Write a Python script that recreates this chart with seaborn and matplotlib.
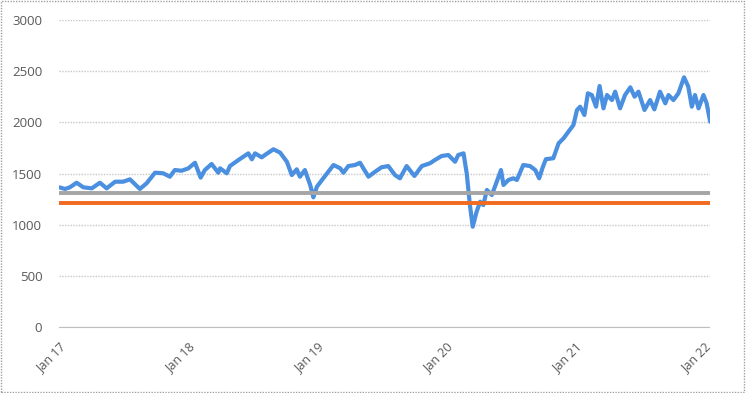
import pandas as pd
import seaborn as sns
import matplotlib.pyplot as plt
from matplotlib.patches import Rectangle

# index level
dates = [
    "2017-01-02", "2017-01-18", "2017-02-01", "2017-02-20", "2017-03-11", "2017-04-04",
    "2017-04-27", "2017-05-16", "2017-06-09", "2017-07-02", "2017-07-21", "2017-08-18",
    "2017-09-06", "2017-09-30", "2017-10-23", "2017-11-11", "2017-11-25", "2017-12-14",
    "2018-01-02", "2018-01-21", "2018-02-06", "2018-02-18", "2018-03-09", "2018-03-28",
    "2018-04-02", "2018-04-21", "2018-04-30", "2018-05-24", "2018-06-21", "2018-07-01",
    "2018-07-10", "2018-07-29", "2018-08-07", "2018-08-31", "2018-09-19", "2018-10-08",
    "2018-10-22", "2018-11-05", "2018-11-14", "2018-11-28", "2018-12-13", "2018-12-22",
    "2019-01-01", "2019-01-19", "2019-02-17", "2019-03-08", "2019-03-17", "2019-03-31",
    "2019-04-19", "2019-05-03", "2019-05-27", "2019-06-15", "2019-07-03", "2019-07-22",
    "2019-08-10", "2019-08-24", "2019-09-12", "2019-10-04", "2019-10-25", "2019-11-17",
    "2019-12-01", "2019-12-20", "2020-01-08", "2020-01-27", "2020-02-05", "2020-02-20",
    "2020-02-29", "2020-03-09", "2020-03-17", "2020-03-28", "2020-04-07", "2020-04-16",
    "2020-04-26", "2020-05-10", "2020-05-24", "2020-06-05", "2020-06-12", "2020-06-26",
    "2020-07-10", "2020-07-20", "2020-08-07", "2020-08-26", "2020-09-10", "2020-09-21",
    "2020-10-01", "2020-10-10", "2020-10-31", "2020-11-15", "2020-11-29", "2020-12-13",
    "2020-12-27", "2021-01-06", "2021-01-15", "2021-01-27", "2021-02-06", "2021-02-17",
    "2021-03-01", "2021-03-11", "2021-03-22", "2021-04-01", "2021-04-15", "2021-04-24",
    "2021-05-08", "2021-05-22", "2021-06-06", "2021-06-18", "2021-06-29", "2021-07-16",
    "2021-08-01", "2021-08-13", "2021-08-29", "2021-09-13", "2021-09-22", "2021-10-06",
    "2021-10-20", "2021-11-05", "2021-11-17", "2021-11-27", "2021-12-06", "2021-12-16",
    "2021-12-30", "2022-01-08", "2022-01-18",
]
values = [
    1365, 1349, 1365, 1410, 1365, 1355,
    1410, 1355, 1420, 1420, 1443, 1349,
    1404, 1508, 1502, 1469, 1534, 1527,
    1550, 1605, 1460, 1534, 1593, 1508,
    1551, 1502, 1573, 1632, 1697, 1639,
    1697, 1658, 1681, 1737, 1704, 1615,
    1485, 1541, 1469, 1534, 1388, 1267,
    1371, 1453, 1583, 1551, 1508, 1573,
    1583, 1605, 1469, 1518, 1561, 1573,
    1485, 1453, 1573, 1476, 1573, 1600,
    1632, 1671, 1681, 1615, 1681, 1697,
    1502, 1192, 980, 1127, 1224, 1192,
    1339, 1290, 1420, 1534, 1388, 1437,
    1453, 1437, 1583, 1573, 1534, 1453,
    1560, 1640, 1649, 1795, 1844, 1909,
    1974, 2121, 2153, 2072, 2284, 2267,
    2153, 2355, 2137, 2267, 2218, 2300,
    2137, 2267, 2342, 2251, 2300, 2121,
    2218, 2127, 2300, 2186, 2267, 2218,
    2284, 2440, 2349, 2153, 2267, 2137,
    2267, 2186, 2006,
]
upper_level = 1310
lower_level = 1212

tick_years = ["2017-01-01", "2018-01-01", "2019-01-01", "2020-01-01", "2021-01-01", "2022-01-01"]
tick_labels = ["Jan 17", "Jan 18", "Jan 19", "Jan 20", "Jan 21", "Jan 22"]

df = pd.DataFrame({"date": pd.to_datetime(dates), "value": values})

sns.set_style("white")
plt.rcParams["font.family"] = ["Open Sans", "DejaVu Sans"]

fig = plt.figure(figsize=(7.46, 3.93), dpi=100)
ax = fig.add_axes([0.079, 0.168, 0.873, 0.781])

sns.lineplot(data=df, x="date", y="value", ax=ax, color="#4A8FE0", linewidth=3, zorder=2)
ax.axhline(upper_level, color="#A5A5A5", linewidth=2.8, zorder=3)
ax.axhline(lower_level, color="#F26A1F", linewidth=2.8, zorder=3)

ax.set_xlim(pd.Timestamp("2017-01-01"), pd.Timestamp("2022-01-18"))
ax.set_ylim(0, 3000)
ax.set_yticks(range(0, 3001, 500))
ax.set_xticks(pd.to_datetime(tick_years))
ax.set_xticklabels(tick_labels, rotation=45, ha="right", rotation_mode="anchor")
ax.set_xlabel("")
ax.set_ylabel("")

ax.yaxis.grid(True, color="#C8C8C8", linestyle=(0, (1, 1)), linewidth=1)
ax.set_axisbelow(True)
sns.despine(ax=ax, left=True, top=True, right=True)
ax.spines["bottom"].set_color("#BFBFBF")
ax.spines["bottom"].set_linestyle((0, (1, 1)))
ax.tick_params(axis="x", colors="#595959", labelsize=9, length=4, color="#BFBFBF", pad=6)
ax.tick_params(axis="y", colors="#595959", labelsize=9.5, length=0, pad=12)

fig.patches.append(Rectangle((0.002, 0.003), 0.995, 0.994, transform=fig.transFigure,
                             fill=False, edgecolor="#A0A0A0", linestyle=(0, (1, 1)), linewidth=1))

fig.savefig("out.png", dpi=100)
